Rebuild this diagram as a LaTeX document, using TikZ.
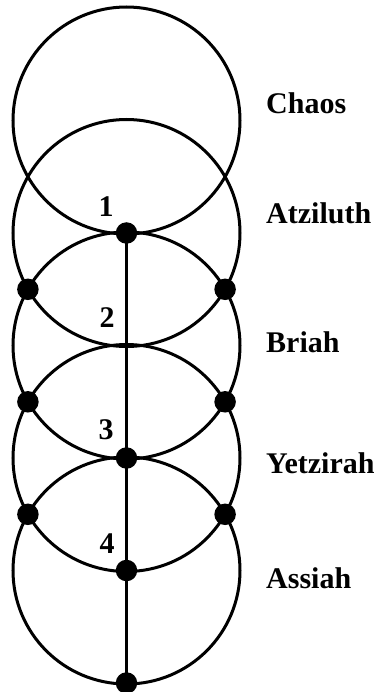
\documentclass[tikz,border=0pt]{standalone}
\usepackage{fontspec}
\setmainfont{Liberation Serif}
\begin{document}
\begin{tikzpicture}[x=1pt,y=-1pt,
  ring/.style={draw=black,line width=3pt},
  dot/.style={circle,fill=black,inner sep=0pt,minimum size=21.5pt},
  world/.style={anchor=west,inner sep=0pt,font=\fontsize{30}{32}\selectfont\bfseries},
  num/.style={inner sep=0pt,font=\fontsize{30}{32}\selectfont\bfseries}]
\useasboundingbox (0,0) rectangle (377,692);
% circles
\foreach \cy in {120.5,233,345.5,458,570.5}
  \draw[ring] (126.5,\cy) circle (113.5);
% nodes
\node[dot] (n1) at (126.5,233) {};
\coordinate (n2) at (126.5,345.5);
\node[dot] (n3) at (126.5,458) {};
\node[dot] (n4) at (126.5,570.5) {};
\node[dot] (n5) at (126.5,683) {};
\draw[line width=3pt] (n1.center) -- (n5.center);
\node[dot] (l1) at (27.9,289.3) {};
\node[dot] (r1) at (225.1,289.3) {};
\node[dot] (l2) at (27.9,401.8) {};
\node[dot] (r2) at (225.1,401.8) {};
\node[dot] (l3) at (27.9,514.3) {};
\node[dot] (r3) at (225.1,514.3) {};
% numbers
\node[num] (t1) at (106,207) {1};
\node[num] (t2) at (107,318) {2};
\node[num] (t3) at (106,430) {3};
\node[num] (t4) at (107,544) {4};
% labels
\node[world] (chaos) at (266,103) {Chaos};
\node[world] (atz) at (266,213) {Atziluth};
\node[world] (bri) at (266,342) {Briah};
\node[world] (yet) at (266,463) {Yetzirah};
\node[world] (ass) at (266,578) {Assiah};
\end{tikzpicture}
\end{document}
